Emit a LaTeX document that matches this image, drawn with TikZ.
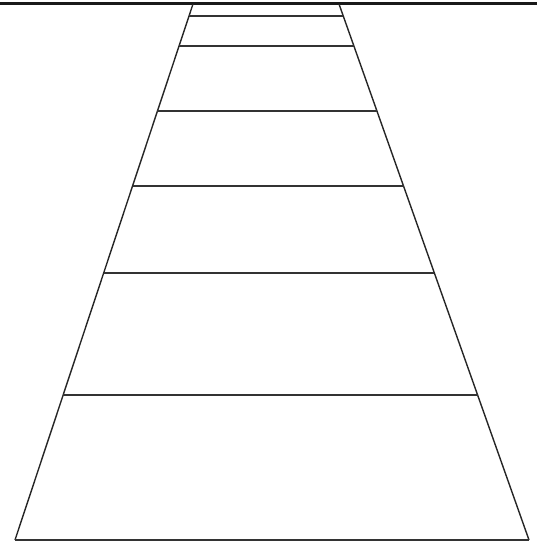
\documentclass[tikz,border=0pt]{standalone}
\usetikzlibrary{calc}
\begin{document}
\begin{tikzpicture}[x=1pt,y=-1pt,
  side/.style={line width=1.4pt,draw=black!85},
  rung/.style={line width=1.3pt,draw=black!80},
  horizon/.style={line width=3pt,draw=black!90}]
\useasboundingbox (0,0) rectangle (537,543);
\coordinate (TL) at (193,4);
\coordinate (TR) at (339,4);
\coordinate (BL) at (15,540);
\coordinate (BR) at (529,540);
\draw[horizon] (0,4) -- (537,4);
\draw[side] (TL) -- (BL);
\draw[side] (TR) -- (BR);
\draw[rung] (BL) -- (BR);
\foreach \yy in {16,46,111,186,273,395}{
  \pgfmathsetmacro{\t}{(\yy-4)/536}
  \draw[rung] ($(TL)!\t!(BL)$) -- ($(TR)!\t!(BR)$);
}
\end{tikzpicture}
\end{document}
